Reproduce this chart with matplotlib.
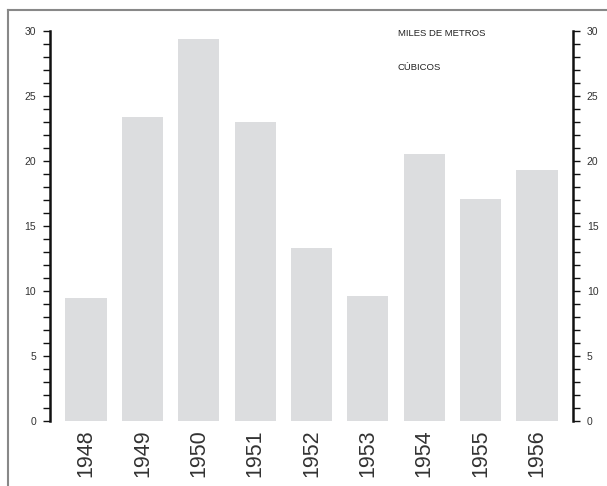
import matplotlib.pyplot as plt
import numpy as np
from matplotlib.lines import Line2D
from matplotlib.ticker import MultipleLocator

years = ['1948', '1949', '1950', '1951', '1952', '1953', '1954', '1955', '1956']
values = [9.5, 23.4, 29.4, 23.0, 13.3, 9.6, 20.5, 17.1, 19.3]

plt.rcParams['font.family'] = ['Liberation Sans', 'DejaVu Sans']

fig = plt.figure(figsize=(6.07, 4.86), dpi=100)
ax = fig.add_axes([50 / 607, 65 / 486, 523 / 607, 390 / 486])

x = np.arange(len(years))
ax.bar(x, values, width=0.73, color='#dcdddf')
ax.set_xlim(-0.64, 8.64)
ax.set_ylim(0, 30)

ax.spines['top'].set_visible(False)
ax.spines['bottom'].set_visible(False)
for side in ('left', 'right'):
    ax.spines[side].set_linewidth(1.8)
    ax.spines[side].set_color('#111111')

ax.yaxis.set_major_locator(MultipleLocator(5))
ax.yaxis.set_minor_locator(MultipleLocator(1))
ax.tick_params(axis='y', which='both', left=True, right=True, labelleft=True,
               labelright=True, direction='out', length=5, width=1.0,
               color='#111111', labelsize=7.5, labelcolor='#333333', pad=5)

ax.set_xticks(x)
ax.set_xticklabels(years, rotation=90, fontsize=15.5, color='#333333')
ax.tick_params(axis='x', length=0, pad=6)

fig.text(398 / 607, 1 - 34 / 486, 'MILES DE METROS', fontsize=6.8, color='#222222',
         ha='left', va='center')
fig.text(398 / 607, 1 - 67 / 486, 'CÚBICOS', fontsize=6.8, color='#222222',
         ha='left', va='center')

# grey frame, top and left only
fig.add_artist(Line2D([8 / 607, 8 / 607], [0, 1 - 10 / 486], color='#888888', lw=1.5,
                      transform=fig.transFigure))
fig.add_artist(Line2D([8 / 607, 1], [1 - 10 / 486, 1 - 10 / 486], color='#888888', lw=1.5,
                      transform=fig.transFigure))

fig.savefig('out.png', dpi=100)
